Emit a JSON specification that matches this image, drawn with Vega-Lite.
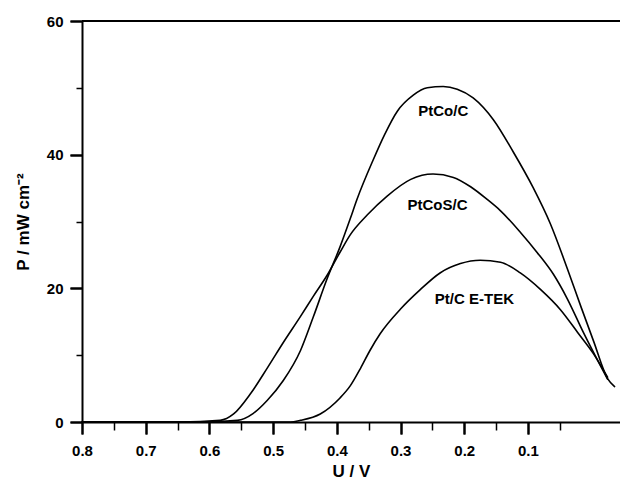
{
  "$schema": "https://vega.github.io/schema/vega-lite/v6.json",
  "width": 538,
  "height": 401,
  "autosize": {"type": "none"},
  "padding": {"left": 82, "top": 21, "right": 0, "bottom": 60},
  "background": "white",
  "config": {"view": {"stroke": null}, "font": "Liberation Sans"},
  "datasets": {
    "curves": [
      {"series": "PtCo/C", "u": 0.8, "p": 0},
      {"series": "PtCo/C", "u": 0.614, "p": 0},
      {"series": "PtCo/C", "u": 0.556, "p": 0.25},
      {"series": "PtCo/C", "u": 0.531, "p": 1.3},
      {"series": "PtCo/C", "u": 0.509, "p": 3.25},
      {"series": "PtCo/C", "u": 0.484, "p": 6.2},
      {"series": "PtCo/C", "u": 0.457, "p": 10.7},
      {"series": "PtCo/C", "u": 0.437, "p": 15.7},
      {"series": "PtCo/C", "u": 0.415, "p": 21.5},
      {"series": "PtCo/C", "u": 0.395, "p": 26.2},
      {"series": "PtCo/C", "u": 0.379, "p": 30.4},
      {"series": "PtCo/C", "u": 0.368, "p": 33.4},
      {"series": "PtCo/C", "u": 0.343, "p": 39.2},
      {"series": "PtCo/C", "u": 0.325, "p": 43.0},
      {"series": "PtCo/C", "u": 0.305, "p": 46.5},
      {"series": "PtCo/C", "u": 0.28, "p": 48.9},
      {"series": "PtCo/C", "u": 0.258, "p": 50.0},
      {"series": "PtCo/C", "u": 0.233, "p": 50.2},
      {"series": "PtCo/C", "u": 0.211, "p": 49.8},
      {"series": "PtCo/C", "u": 0.186, "p": 48.5},
      {"series": "PtCo/C", "u": 0.154, "p": 45.2},
      {"series": "PtCo/C", "u": 0.123, "p": 40.4},
      {"series": "PtCo/C", "u": 0.092, "p": 35.1},
      {"series": "PtCo/C", "u": 0.065, "p": 29.7},
      {"series": "PtCo/C", "u": 0.038, "p": 22.9},
      {"series": "PtCo/C", "u": 0.017, "p": 17.3},
      {"series": "PtCo/C", "u": -0.003, "p": 12.1},
      {"series": "PtCo/C", "u": -0.025, "p": 6.5},
      {"series": "PtCo/C", "u": -0.036, "p": 5.3},
      {"series": "PtCoS/C", "u": 0.8, "p": 0},
      {"series": "PtCoS/C", "u": 0.646, "p": 0},
      {"series": "PtCoS/C", "u": 0.583, "p": 0.25},
      {"series": "PtCoS/C", "u": 0.562, "p": 1.2},
      {"series": "PtCoS/C", "u": 0.535, "p": 4.3},
      {"series": "PtCoS/C", "u": 0.509, "p": 8.1},
      {"series": "PtCoS/C", "u": 0.484, "p": 11.9},
      {"series": "PtCoS/C", "u": 0.457, "p": 15.8},
      {"series": "PtCoS/C", "u": 0.437, "p": 18.8},
      {"series": "PtCoS/C", "u": 0.415, "p": 22.0},
      {"series": "PtCoS/C", "u": 0.395, "p": 25.4},
      {"series": "PtCoS/C", "u": 0.379, "p": 28.0},
      {"series": "PtCoS/C", "u": 0.352, "p": 31.0},
      {"series": "PtCoS/C", "u": 0.321, "p": 33.8},
      {"series": "PtCoS/C", "u": 0.284, "p": 36.3},
      {"series": "PtCoS/C", "u": 0.249, "p": 37.1},
      {"series": "PtCoS/C", "u": 0.217, "p": 36.6},
      {"series": "PtCoS/C", "u": 0.19, "p": 35.2},
      {"series": "PtCoS/C", "u": 0.164, "p": 33.3},
      {"series": "PtCoS/C", "u": 0.143, "p": 31.6},
      {"series": "PtCoS/C", "u": 0.112, "p": 28.4},
      {"series": "PtCoS/C", "u": 0.085, "p": 25.3},
      {"series": "PtCoS/C", "u": 0.06, "p": 22.1},
      {"series": "PtCoS/C", "u": 0.038, "p": 18.4},
      {"series": "PtCoS/C", "u": 0.013, "p": 13.4},
      {"series": "PtCoS/C", "u": -0.025, "p": 6.4},
      {"series": "Pt/C E-TEK", "u": 0.8, "p": 0},
      {"series": "Pt/C E-TEK", "u": 0.473, "p": 0},
      {"series": "Pt/C E-TEK", "u": 0.457, "p": 0.25},
      {"series": "Pt/C E-TEK", "u": 0.426, "p": 1.2},
      {"series": "Pt/C E-TEK", "u": 0.395, "p": 3.6},
      {"series": "Pt/C E-TEK", "u": 0.379, "p": 5.4},
      {"series": "Pt/C E-TEK", "u": 0.363, "p": 8.0},
      {"series": "Pt/C E-TEK", "u": 0.348, "p": 10.7},
      {"series": "Pt/C E-TEK", "u": 0.332, "p": 13.2},
      {"series": "Pt/C E-TEK", "u": 0.3, "p": 16.9},
      {"series": "Pt/C E-TEK", "u": 0.269, "p": 19.8},
      {"series": "Pt/C E-TEK", "u": 0.238, "p": 22.3},
      {"series": "Pt/C E-TEK", "u": 0.206, "p": 23.7},
      {"series": "Pt/C E-TEK", "u": 0.175, "p": 24.2},
      {"series": "Pt/C E-TEK", "u": 0.143, "p": 23.9},
      {"series": "Pt/C E-TEK", "u": 0.112, "p": 22.3},
      {"series": "Pt/C E-TEK", "u": 0.08, "p": 19.8},
      {"series": "Pt/C E-TEK", "u": 0.049, "p": 16.8},
      {"series": "Pt/C E-TEK", "u": 0.022, "p": 13.4},
      {"series": "Pt/C E-TEK", "u": -0.003, "p": 10.2},
      {"series": "Pt/C E-TEK", "u": -0.025, "p": 6.7}
    ],
    "labels": [
      {"label": "PtCo/C", "u": 0.233, "p": 46.5},
      {"label": "PtCoS/C", "u": 0.242, "p": 32.4},
      {"label": "Pt/C E-TEK", "u": 0.184, "p": 18.4}
    ],
    "top": [{"p": 60}]
  },
  "resolve": {"axis": {"x": "independent", "y": "independent"}},
  "layer": [
    {
      "data": {"name": "curves"},
      "mark": {"type": "line", "interpolate": "monotone", "color": "black", "strokeJoin": "round", "strokeCap": "round"},
      "encoding": {
        "x": {"field": "u", "type": "quantitative",
          "scale": {"domain": [-0.0445, 0.8], "reverse": true, "nice": false, "zero": false},
          "axis": {"orient": "bottom", "title": "U / V", "grid": false, "ticks": true, "tickSize": 12, "tickColor": "black", "tickWidth": 2,
            "values": [0.8, 0.7, 0.6, 0.5, 0.4, 0.3, 0.2, 0.1],
            "format": ".1f", "domainColor": "black", "domainWidth": 2,
            "labelFont": "Liberation Sans", "labelFontWeight": "bold", "labelFontSize": 15, "labelColor": "black",
            "labelPadding": 9, "labelFlush": false, "labelOverlap": false,
            "titleFont": "Liberation Sans", "titleFontWeight": "bold", "titleFontSize": 17, "titleColor": "black", "titlePadding": 5}},
        "y": {"field": "p", "type": "quantitative",
          "scale": {"domain": [0, 60], "nice": false, "zero": false},
          "axis": {"orient": "left", "title": "P / mW cm⁻²", "grid": false, "ticks": true, "tickSize": 12, "tickColor": "black", "tickWidth": 2,
            "values": [0, 20, 40, 60], "format": "d",
            "domainColor": "black", "domainWidth": 2,
            "labelFont": "Liberation Sans", "labelFontWeight": "bold", "labelFontSize": 15, "labelColor": "black",
            "labelPadding": 7, "labelFlush": false, "labelOverlap": false,
            "titleFont": "Liberation Sans", "titleFontWeight": "bold", "titleFontSize": 17, "titleColor": "black", "titlePadding": 14}},
        "detail": {"field": "series"},
        "strokeWidth": {"field": "series", "type": "nominal",
          "scale": {"domain": ["PtCo/C", "PtCoS/C", "Pt/C E-TEK"], "range": [1.6, 1.6, 2.8]}, "legend": null}
      }
    },
    {
      "data": {"name": "top"},
      "mark": {"type": "rule", "color": "black", "strokeWidth": 2},
      "encoding": {"y": {"field": "p", "type": "quantitative", "axis": null}}
    },
    {
      "data": {"name": "labels"},
      "mark": {"type": "text", "font": "Liberation Sans", "fontWeight": "bold", "fontSize": 15, "color": "black", "baseline": "middle", "align": "center"},
      "encoding": {
        "x": {"field": "u", "type": "quantitative",
          "axis": {"orient": "bottom", "title": null, "grid": false, "labels": false, "domain": false,
            "values": [0.75, 0.65, 0.55, 0.45, 0.35, 0.25, 0.15, 0.05],
            "tickSize": 8, "tickColor": "black", "tickWidth": 1.5}},
        "y": {"field": "p", "type": "quantitative",
          "axis": {"orient": "left", "title": null, "grid": false, "labels": false, "domain": false,
            "values": [10, 30, 50],
            "tickSize": 6, "tickColor": "black", "tickWidth": 1.5}},
        "text": {"field": "label"}
      }
    },
    {
      "data": {"name": "labels"},
      "mark": {"type": "text", "text": "", "opacity": 0},
      "encoding": {
        "x": {"field": "u", "type": "quantitative",
          "axis": {"orient": "bottom", "title": null, "grid": false, "labels": false, "domain": false,
            "values": [0.8, 0.7, 0.6, 0.5, 0.4, 0.3, 0.2, 0.1],
            "tickSize": 12, "tickColor": "black", "tickWidth": 2}},
        "y": {"field": "p", "type": "quantitative",
          "axis": {"orient": "left", "title": null, "grid": false, "labels": false, "domain": false,
            "values": [0, 20, 40, 60],
            "tickSize": 12, "tickColor": "black", "tickWidth": 2}}
      }
    }
  ]
}
